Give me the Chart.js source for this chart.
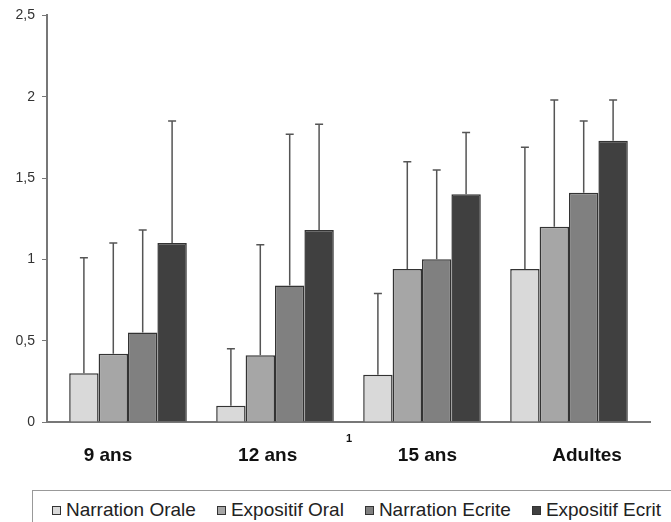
<!DOCTYPE html>
<html>
<head>
<meta charset="utf-8">
<script src="https://cdn.jsdelivr.net/npm/chart.js@4"></script>
<style>
  body { margin: 0; background: #fff; width: 671px; height: 522px; overflow: hidden; position: relative; font-family: Arial, "Liberation Sans", sans-serif; }
  #zone { position: absolute; left: 0; top: 0; width: 671px; height: 490px; }
  #note { position: absolute; left: 346px; top: 432px; font: bold 11px Arial, "Liberation Sans", sans-serif; color: #111; }
  #legende { position: absolute; left: 32px; top: 490px; width: 700px; height: 60px; border: 1px solid #999; box-sizing: border-box; padding: 8px 0 0 19px; display: flex; align-items: flex-start; }
  .item { display: flex; align-items: center; margin-right: 21px; font-size: 19px; line-height: 22px; height: 22px; color: #222; white-space: nowrap; }
  .carre { width: 7px; height: 7px; border: 1px solid #333; margin-right: 5px; }
</style>
</head>
<body>
<div id="zone"><canvas id="graphique"></canvas></div>
<div id="note">1</div>
<div id="legende"></div>
<script>
// ============================================================================
// DONNÉES
// ============================================================================

const groupes = ['9 ans', '12 ans', '15 ans', 'Adultes'];
const series = ['Narration Orale', 'Expositif Oral', 'Narration Ecrite', 'Expositif Ecrit'];

// moyennes
const narrationOrale = [0.30, 0.10, 0.29, 0.94];
const expositifOral = [0.42, 0.41, 0.94, 1.20];
const narrationEcrite = [0.55, 0.84, 1.00, 1.41];
const expositifEcrit = [1.10, 1.18, 1.40, 1.73];

// haut des barres d'erreur
const errNarrationOrale = [1.01, 0.45, 0.79, 1.69];
const errExpositifOral = [1.10, 1.09, 1.60, 1.98];
const errNarrationEcrite = [1.18, 1.77, 1.55, 1.85];
const errExpositifEcrit = [1.85, 1.83, 1.78, 1.98];

const ticksY = [0, 0.5, 1, 1.5, 2, 2.5];

const couleurs = ['#d9d9d9', '#a6a6a6', '#808080', '#404040'];

// ============================================================================
// BARRES D'ERREUR (plugin)
// ============================================================================

const barresErreur = {
    id: 'barresErreur',
    afterDatasetsDraw(chart) {
        const ctx = chart.ctx;
        const echelleY = chart.scales.y;
        ctx.save();
        ctx.strokeStyle = '#555';
        ctx.lineWidth = 1.5;
        chart.data.datasets.forEach((ds, i) => {
            chart.getDatasetMeta(i).data.forEach((barre, j) => {
                const haut = echelleY.getPixelForValue(ds.erreur[j]);
                ctx.beginPath();
                ctx.moveTo(barre.x, barre.y);
                ctx.lineTo(barre.x, haut);
                ctx.moveTo(barre.x - 4, haut);
                ctx.lineTo(barre.x + 4, haut);
                ctx.stroke();
            });
        });
        ctx.restore();
    }
};

// ============================================================================
// GRAPHIQUE
// ============================================================================

function creerDataset(nom, valeurs, erreurs, couleur) {
    return {
        label: nom,
        data: valeurs.map((v, i) => ({ x: i, y: v })),
        erreur: erreurs,
        backgroundColor: couleur,
        borderColor: '#333',
        borderWidth: 1.5,
        borderSkipped: 'bottom',
        categoryPercentage: 0.8,
        barPercentage: 1.0
    };
}

function creerGraphique() {
    const ctx = document.getElementById('graphique');
    if (!ctx) return;

    new Chart(ctx, {
        type: 'bar',
        data: {
            datasets: [
                creerDataset(series[0], narrationOrale, errNarrationOrale, couleurs[0]),
                creerDataset(series[1], expositifOral, errExpositifOral, couleurs[1]),
                creerDataset(series[2], narrationEcrite, errNarrationEcrite, couleurs[2]),
                creerDataset(series[3], expositifEcrit, errExpositifEcrit, couleurs[3])
            ]
        },
        options: {
            responsive: true,
            maintainAspectRatio: false,
            animation: false,
            layout: { padding: { top: 14, right: 21, left: 0, bottom: 0 } },
            plugins: {
                legend: { display: false },
                tooltip: { enabled: false }
            },
            scales: {
                x: {
                    type: 'linear',
                    offset: false,
                    min: -0.551,
                    max: 3.551,
                    afterBuildTicks: function(scale) {
                        scale.ticks = groupes.map((g, i) => ({ value: i }));
                    },
                    display: false
                },
                groupes: {
                    type: 'linear',
                    position: 'bottom',
                    offset: false,
                    min: -0.382,
                    max: 3.394,
                    afterBuildTicks: function(scale) {
                        scale.ticks = groupes.map((g, i) => ({ value: i }));
                    },
                    afterFit: function(scale) {
                        scale.height = 68;
                    },
                    grid: { display: false, drawTicks: false, offset: false },
                    border: { display: true, color: '#777', width: 2 },
                    ticks: {
                        autoSkip: false,
                        maxRotation: 0,
                        padding: 22,
                        color: '#111',
                        font: { family: "Arial, 'Liberation Sans', sans-serif", size: 19, weight: 'bold' },
                        callback: function(value, index) {
                            return groupes[index];
                        }
                    }
                },
                y: {
                    min: 0,
                    max: 2.5,
                    afterBuildTicks: function(scale) {
                        scale.ticks = ticksY.map(v => ({ value: v }));
                    },
                    afterFit: function(scale) {
                        scale.width = 47;
                    },
                    grid: { drawOnChartArea: false, drawTicks: true, tickLength: 5, color: '#777' },
                    border: { display: true, color: '#777', width: 2 },
                    ticks: {
                        padding: 7,
                        color: '#333',
                        font: { family: "Arial, 'Liberation Sans', sans-serif", size: 14 },
                        callback: function(value) {
                            return String(value).replace('.', ',');
                        }
                    }
                }
            }
        },
        plugins: [barresErreur]
    });
}

// ============================================================================
// LÉGENDE
// ============================================================================

function creerLegende() {
    const boite = document.getElementById('legende');
    series.forEach((nom, i) => {
        const item = document.createElement('div');
        item.className = 'item';
        const carre = document.createElement('span');
        carre.className = 'carre';
        carre.style.background = couleurs[i];
        item.appendChild(carre);
        item.appendChild(document.createTextNode(nom));
        boite.appendChild(item);
    });
}

creerGraphique();
creerLegende();
</script>
</body>
</html>
